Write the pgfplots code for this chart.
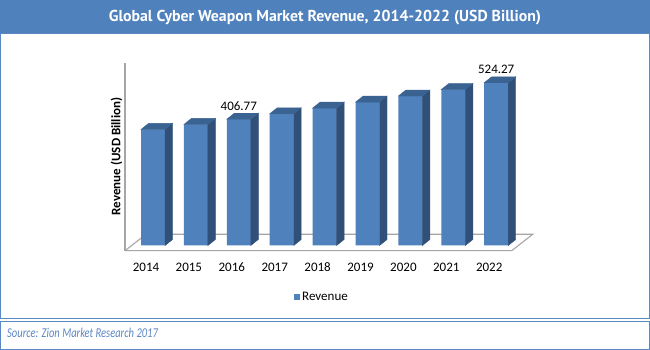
\documentclass[border=0pt]{standalone}
\usepackage{fontspec}
\usepackage{pgfplots}
\pgfplotsset{compat=1.18}
\usepackage{pgfplotstable}
\setmainfont{Carlito}
\newfontfamily\titlefont{PT Sans}
\definecolor{barc}{HTML}{4F81BD}
\definecolor{sidec}{HTML}{30507A}
\definecolor{topc}{HTML}{3B6392}
\definecolor{framec}{HTML}{5B87C3}
\definecolor{floorc}{HTML}{A6A6A6}

\pgfplotstableread{
idx val
0 374.0
1 390.0
2 406.77
3 424.3
4 442.6
5 461.7
6 481.6
7 502.4
8 524.27
}\revtable

\begin{document}
\begin{tikzpicture}[x=1pt,y=1pt]
\useasboundingbox (0pt,0pt) rectangle (650pt,350pt);
\fill[white] (0pt,0pt) rectangle (650pt,350pt);
\fill[barc] (0pt,316.5pt) rectangle (650pt,350pt);
\node[anchor=base, inner sep=0pt, text=white, font=\titlefont\bfseries\fontsize{15.8}{17}\selectfont] at (325pt,328pt) {Global Cyber Weapon Market Revenue, 2014-2022 (USD Billion)};
\draw[framec, line width=1pt] (0.5pt,31.7pt) rectangle (649.5pt,316.5pt);
\draw[framec, line width=1pt] (0.5pt,0.5pt) rectangle (649.5pt,28.3pt);
\node[anchor=base west, inner sep=0pt, text=framec, font=\itshape\fontsize{13.5}{15}\selectfont] at (7pt,12.7pt) {\scalebox{0.78}[1]{Source: Zion Market Research 2017}};

\begin{axis}[
  at={(120.825pt,98.292pt)}, anchor=south west,
  x=42.9pt, y=0.3104pt,
  xmin=-0.75, xmax=8.95, ymin=-20, ymax=600,
  clip=false,
  axis line style={draw=none},
  ytick=\empty,
  xtick={0,...,8},
  xticklabels={2014,2015,2016,2017,2018,2019,2020,2021,2022},
  major tick length=0pt,
  xticklabel style={anchor=base, inner sep=0pt, yshift=-20pt, xshift=-7pt, font=\fontsize{13}{15}\selectfont},
  ylabel={Revenue (USD Billion)},
  every axis y label/.style={at={(axis cs:-0.851,286.7)}, rotate=90, anchor=center, font=\bfseries\fontsize{13}{15}\selectfont},
  legend style={at={(axis cs:3.94,-165.9)}, anchor=center, draw=none, fill=none, font=\fontsize{13}{15}\selectfont, inner sep=0pt},
  legend cell align=left,
]
% floor and vertical axis line
\addplot[forget plot, draw=floorc, fill=white, line width=1.1pt] coordinates {(-0.653,-16.75) (8.361,-16.75) (8.851,36.08) (-0.163,36.08) (-0.653,-16.75)};
\addplot[forget plot, draw=floorc, line width=1.3pt] coordinates {(-0.653,-16.75) (-0.653,588)};
% front faces
\addplot[ybar, bar width=24pt, fill=barc, draw=none,
  legend image code/.code={\fill[barc] (0pt,-3pt) rectangle (6pt,3pt);}]
  table[x=idx,y=val] {\revtable};
\addlegendentry{Revenue}
% side and top faces
\addplot[forget plot, only marks, mark=text, text mark={}, scatter,
  visualization depends on={\thisrow{val}*0.3104 \as \h},
  scatter/@pre marker code/.code={%
    \fill[sidec] (12pt,0pt) -- (19.5pt,6pt) -- (19.5pt,{6pt-\h*1pt}) -- (12pt,{-\h*1pt}) -- cycle;
    \fill[topc] (-12pt,0pt) -- (-4.5pt,6pt) -- (19.5pt,6pt) -- (12pt,0pt) -- cycle;
  },
  scatter/@post marker code/.code={}]
  table[x=idx,y=val] {\revtable};
% value labels
\addplot[forget plot, draw=none, mark=none, nodes near coords, point meta=explicit symbolic,
  every node near coord/.style={anchor=base, inner sep=0pt, yshift=9pt, text=black, font=\fontsize{13}{15}\selectfont}]
  coordinates {(2,406.77) [406.77] (8,524.27) [524.27]};
\end{axis}
\end{tikzpicture}
\end{document}
